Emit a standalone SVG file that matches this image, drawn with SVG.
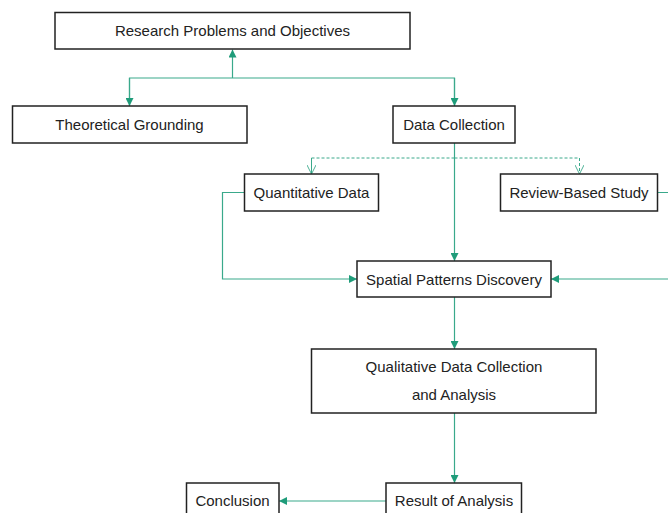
<svg xmlns="http://www.w3.org/2000/svg" width="668" height="513" viewBox="0 0 668 513">
<style>
.box{fill:#fff;stroke:#222;stroke-width:1.5}
.t{font-family:"Liberation Sans",Arial,sans-serif;font-size:15px;fill:#222;text-anchor:middle}
.c{fill:none;stroke:#3aa98b;stroke-width:1.2}
.d{fill:none;stroke:#3aa98b;stroke-width:1;stroke-dasharray:3 2}
</style>
<defs>
<marker id="a" viewBox="0 0 10 10" refX="10" refY="5" markerWidth="8" markerHeight="8" markerUnits="userSpaceOnUse" orient="auto">
<path d="M0,0 L10,5 L0,10 z" fill="#1f9c7a"/>
</marker>
<marker id="o" viewBox="0 0 10 10" refX="10" refY="5" markerWidth="9" markerHeight="9" markerUnits="userSpaceOnUse" orient="auto">
<path d="M0,0 L10,5 L0,10" fill="none" stroke="#3aa98b" stroke-width="1"/>
</marker>
</defs>
<rect width="668" height="513" fill="#fff"/>
<g id="connectors">
<path class="c" d="M232.5,78 V49.5" marker-end="url(#a)"/>
<path class="c" d="M129.5,106 V78 H454.5 V106" />
<path class="c" d="M129.5,78 V106" marker-end="url(#a)"/>
<path class="c" d="M454.5,78 V106" marker-end="url(#a)"/>
<path class="d" d="M454.5,158 H311.5 V174"/>
<path class="d" d="M311.5,158 V174" marker-end="url(#o)"/>
<path class="d" d="M454.5,158 H579.5 V174" marker-end="url(#o)"/>
<path class="c" d="M454.5,143 V261" marker-end="url(#a)"/>
<path class="c" d="M244,192.5 H222.5 V279 H357" marker-end="url(#a)"/>
<path class="c" d="M658,192.5 H690 V279 H551" marker-end="url(#a)"/>
<path class="c" d="M454.5,297 V349" marker-end="url(#a)"/>
<path class="c" d="M454.5,413 V483" marker-end="url(#a)"/>
<path class="c" d="M386,501 H279" marker-end="url(#a)"/>
</g>
<g id="research"><rect class="box" x="55" y="12.5" width="355" height="36.5"/><text class="t" x="232.5" y="36">Research Problems and Objectives</text></g>
<g id="theoretical"><rect class="box" x="12.5" y="106" width="234.5" height="37"/><text class="t" x="129.5" y="129.5">Theoretical Grounding</text></g>
<g id="datacollection"><rect class="box" x="393" y="106" width="122" height="37"/><text class="t" x="454" y="129.5">Data Collection</text></g>
<g id="quantitative"><rect class="box" x="244.5" y="174" width="134" height="37"/><text class="t" x="311.5" y="197.5">Quantitative Data</text></g>
<g id="review"><rect class="box" x="500.5" y="174" width="157" height="37"/><text class="t" x="579" y="197.5">Review-Based Study</text></g>
<g id="spatial"><rect class="box" x="357" y="261" width="194" height="36"/><text class="t" x="454" y="284.5">Spatial Patterns Discovery</text></g>
<g id="qualitative"><rect class="box" x="311.5" y="349" width="284.5" height="64"/><text class="t" x="454" y="372">Qualitative Data Collection</text><text class="t" x="454" y="400">and Analysis</text></g>
<g id="result"><rect class="box" x="386" y="483" width="135.5" height="40"/><text class="t" x="454" y="506">Result of Analysis</text></g>
<g id="conclusion"><rect class="box" x="186.5" y="483" width="92.5" height="40"/><text class="t" x="232.5" y="506">Conclusion</text></g>
</svg>
